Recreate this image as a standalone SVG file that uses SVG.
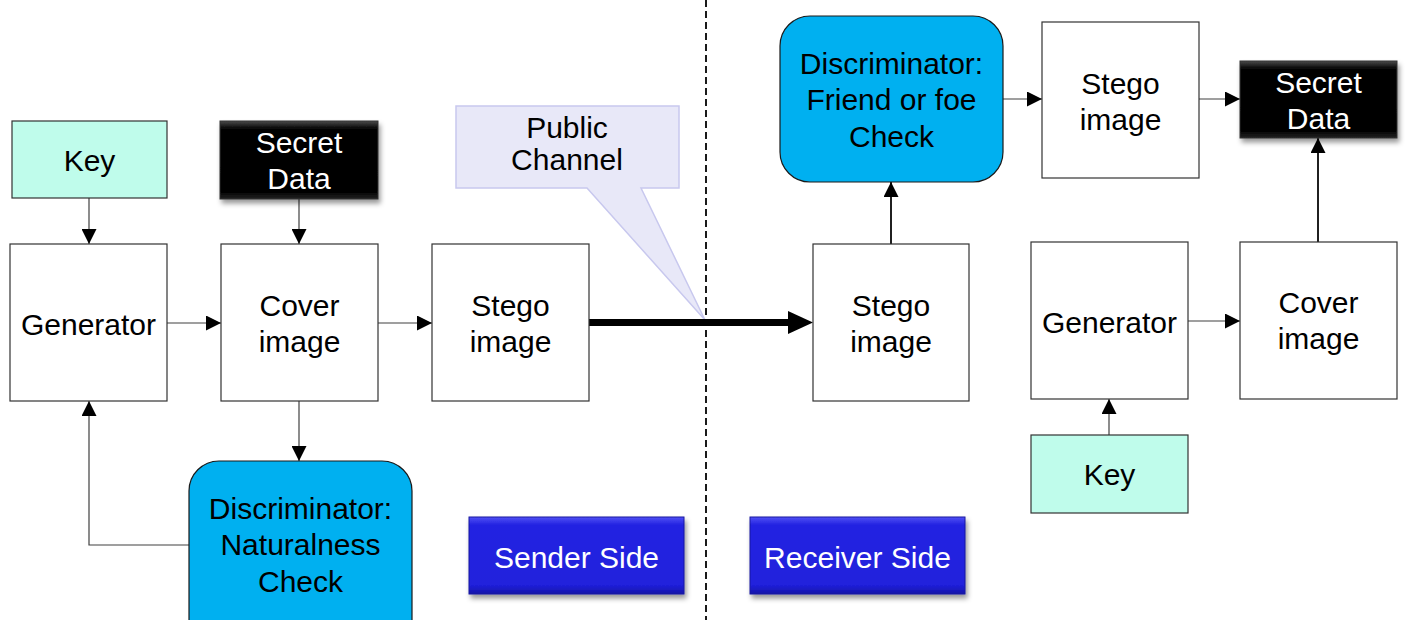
<svg xmlns="http://www.w3.org/2000/svg" width="1409" height="620" viewBox="0 0 1409 620">
<defs>
<style>
text{font-family:"Liberation Sans",Arial,sans-serif;font-size:30px;text-anchor:middle;fill:#000}
.box{fill:#fff;stroke:#333;stroke-width:1.2}
.key{fill:#BFFCEB;stroke:#333;stroke-width:1.2}
.disc{fill:#00B0F0;stroke:#1a1a1a;stroke-width:1.2}
.conn{stroke:#404040;stroke-width:1.2;fill:none}
.conn2{stroke:#202020;stroke-width:2;fill:none}
.wt{fill:#fff}
</style>
<marker id="ah" viewBox="0 0 10 10" refX="10" refY="5" markerWidth="15" markerHeight="15" markerUnits="userSpaceOnUse" orient="auto">
<path d="M0,0 L10,5 L0,10 z" fill="#000"/>
</marker>
<linearGradient id="blk" x1="0" y1="0" x2="0" y2="1">
<stop offset="0" stop-color="#4a4a4a"/>
<stop offset="0.1" stop-color="#050505"/>
<stop offset="0.9" stop-color="#000"/>
<stop offset="1" stop-color="#222"/>
</linearGradient>
<linearGradient id="blu" x1="0" y1="0" x2="0" y2="1">
<stop offset="0" stop-color="#5050f5"/>
<stop offset="0.1" stop-color="#2424e2"/>
<stop offset="0.88" stop-color="#2020dc"/>
<stop offset="1" stop-color="#1515a8"/>
</linearGradient>
<filter id="sh" x="-10%" y="-10%" width="130%" height="140%">
<feDropShadow dx="2" dy="4" stdDeviation="2.5" flood-color="#000" flood-opacity="0.4"/>
</filter>
</defs>
<rect width="1409" height="620" fill="#fff"/>

<line x1="706" y1="0" x2="706" y2="620" stroke="#1a1a1a" stroke-width="2" stroke-dasharray="7,4"/>

<g id="callout">
<path d="M456,106 H679 V188 H641 L705,320 L587,188 H456 Z" fill="#E8E8F8" stroke="#C8C8EE" stroke-width="1.5"/>
<text x="567" y="138">Public</text>
<text x="567" y="170">Channel</text>
</g>

<g id="connectors">
<line class="conn" x1="89" y1="198" x2="89" y2="244" marker-end="url(#ah)"/>
<line class="conn" x1="299" y1="199" x2="299" y2="244" marker-end="url(#ah)"/>
<line class="conn" x1="167" y1="323" x2="221" y2="323" marker-end="url(#ah)"/>
<line class="conn" x1="378" y1="323" x2="432" y2="323" marker-end="url(#ah)"/>
<line class="conn" x1="299" y1="401" x2="299" y2="461" marker-end="url(#ah)"/>
<polyline class="conn" points="189,545 89,545 89,401" marker-end="url(#ah)"/>
<line x1="589" y1="322.5" x2="792" y2="322.5" stroke="#000" stroke-width="7"/>
<path d="M788,311 L813,322.5 L788,334 Z" fill="#000"/>
<line class="conn2" x1="891" y1="244" x2="891" y2="182" marker-end="url(#ah)"/>
<line class="conn" x1="1003" y1="99" x2="1042" y2="99" marker-end="url(#ah)"/>
<line class="conn" x1="1199" y1="99" x2="1240" y2="99" marker-end="url(#ah)"/>
<line class="conn" x1="1188" y1="321" x2="1240" y2="321" marker-end="url(#ah)"/>
<line class="conn2" x1="1318" y1="242" x2="1318" y2="138" marker-end="url(#ah)"/>
<line class="conn" x1="1109" y1="435" x2="1109" y2="399" marker-end="url(#ah)"/>
</g>

<g id="key-sender">
<rect class="key" x="12" y="121" width="155" height="77"/>
<text x="89.5" y="171">Key</text>
</g>
<g id="secret-sender">
<rect x="220" y="121" width="158" height="78" fill="url(#blk)" stroke="#333" filter="url(#sh)"/>
<text class="wt" x="299" y="153">Secret</text>
<text class="wt" x="299" y="189">Data</text>
</g>
<g id="generator-sender">
<rect class="box" x="10" y="244" width="157" height="157"/>
<text x="88.5" y="335">Generator</text>
</g>
<g id="cover-sender">
<rect class="box" x="221" y="244" width="157" height="157"/>
<text x="299.5" y="316">Cover</text>
<text x="299.5" y="352">image</text>
</g>
<g id="stego-sender">
<rect class="box" x="432" y="244" width="157" height="157"/>
<text x="510.5" y="316">Stego</text>
<text x="510.5" y="352">image</text>
</g>
<g id="disc-naturalness">
<rect class="disc" x="189" y="461" width="223" height="190" rx="30" ry="30"/>
<text x="300.5" y="519">Discriminator:</text>
<text x="300.5" y="555">Naturalness</text>
<text x="300.5" y="592">Check</text>
</g>
<g id="sender-side">
<rect x="469" y="517" width="215" height="77" fill="url(#blu)" stroke="#1a1aa0" filter="url(#sh)"/>
<text class="wt" x="576.5" y="568">Sender Side</text>
</g>
<g id="receiver-side">
<rect x="750" y="517" width="215" height="77" fill="url(#blu)" stroke="#1a1aa0" filter="url(#sh)"/>
<text class="wt" x="857.5" y="568">Receiver Side</text>
</g>
<g id="stego-receiver">
<rect class="box" x="813" y="244" width="156" height="157"/>
<text x="891" y="316">Stego</text>
<text x="891" y="352">image</text>
</g>
<g id="disc-friend">
<rect class="disc" x="780" y="16" width="223" height="166" rx="30" ry="30"/>
<text x="891.5" y="74">Discriminator:</text>
<text x="891.5" y="110">Friend or foe</text>
<text x="891.5" y="147">Check</text>
</g>
<g id="stego-extracted">
<rect class="box" x="1042" y="22" width="157" height="156"/>
<text x="1120.5" y="94">Stego</text>
<text x="1120.5" y="130">image</text>
</g>
<g id="secret-receiver">
<rect x="1240" y="61" width="157" height="77" fill="url(#blk)" stroke="#333" filter="url(#sh)"/>
<text class="wt" x="1318.5" y="93">Secret</text>
<text class="wt" x="1318.5" y="129">Data</text>
</g>
<g id="generator-receiver">
<rect class="box" x="1031" y="242" width="157" height="157"/>
<text x="1109.5" y="333">Generator</text>
</g>
<g id="cover-receiver">
<rect class="box" x="1240" y="242" width="157" height="157"/>
<text x="1318.5" y="313">Cover</text>
<text x="1318.5" y="349">image</text>
</g>
<g id="key-receiver">
<rect class="key" x="1031" y="435" width="157" height="78"/>
<text x="1109.5" y="485">Key</text>
</g>
</svg>
